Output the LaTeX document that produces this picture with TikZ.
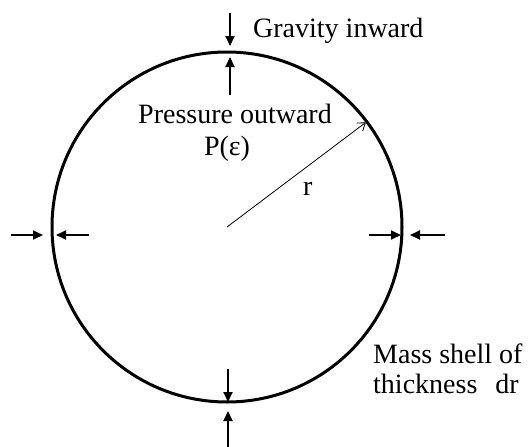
\documentclass[tikz,border=0pt]{standalone}
\usepackage{fontspec}
\setmainfont{Liberation Serif}
\usetikzlibrary{arrows.meta, positioning, calc}
\tikzset{
  shell/.style = {draw, circle, line width=3pt, minimum size=350pt, inner sep=0pt},
  force/.style = {-{Triangle[length=10pt, width=9pt]}, line width=1.8pt},
  radius/.style = {-{Straight Barb[length=7pt, width=10pt]}, line width=0.8pt},
  lbl/.style   = {font=\fontsize{28}{30}\selectfont, inner sep=0pt}
}

\begin{document}
\begin{tikzpicture}[x=1pt, y=-1pt]
  \useasboundingbox (0,0) rectangle (528,447);

  % ── Mass shell ────────────────────────────────────────────────────────────
  \node[shell] (shell) at (227,227) {};

  % ── Force arrow end points ────────────────────────────────────────────────
  \coordinate (TopG0) at (230,13);   \coordinate (TopG1) at (230,46);
  \coordinate (TopP0) at (230,95);   \coordinate (TopP1) at (230,57);
  \coordinate (BotG0) at (228,369);  \coordinate (BotG1) at (228,402);
  \coordinate (BotP0) at (228,447);  \coordinate (BotP1) at (228,411);
  \coordinate (LftG0) at (11,235);   \coordinate (LftG1) at (43,235);
  \coordinate (LftP0) at (89,235);   \coordinate (LftP1) at (56,235);
  \coordinate (RgtG0) at (369,235);  \coordinate (RgtG1) at (401,235);
  \coordinate (RgtP0) at (445,235);  \coordinate (RgtP1) at (410,235);

  % ── Gravity (inward) and pressure (outward) ───────────────────────────────
  \draw[force] (TopG0) -- (TopG1);
  \draw[force] (TopP0) -- (TopP1);
  \draw[force] (BotG0) -- (BotG1);
  \draw[force] (BotP0) -- (BotP1);
  \draw[force] (LftG0) -- (LftG1);
  \draw[force] (LftP0) -- (LftP1);
  \draw[force] (RgtG0) -- (RgtG1);
  \draw[force] (RgtP0) -- (RgtP1);

  % ── Radius ────────────────────────────────────────────────────────────────
  \coordinate (REnd) at ($(shell.center)!0.985!(shell.37.7)$);
  \draw[radius] (shell.center) -- (REnd);

  % ── Labels ────────────────────────────────────────────────────────────────
  \node[lbl, anchor=base west]   (grav)  at (253,37)  {Gravity inward};
  \node[lbl, anchor=base]        (press) at (235,123) {Pressure outward};
  \node[lbl, anchor=base]        (peps)  at (227,155) {P(ε)};
  \node[lbl, anchor=base west]   (rlbl)  at (303,195) {r};
  \node[lbl, anchor=base west]   (mass)  at (373,363) {Mass shell of};
  \node[lbl, anchor=base west]   (thick) at (373,393) {thickness\hspace*{0.64em}dr};

\end{tikzpicture}
\end{document}
